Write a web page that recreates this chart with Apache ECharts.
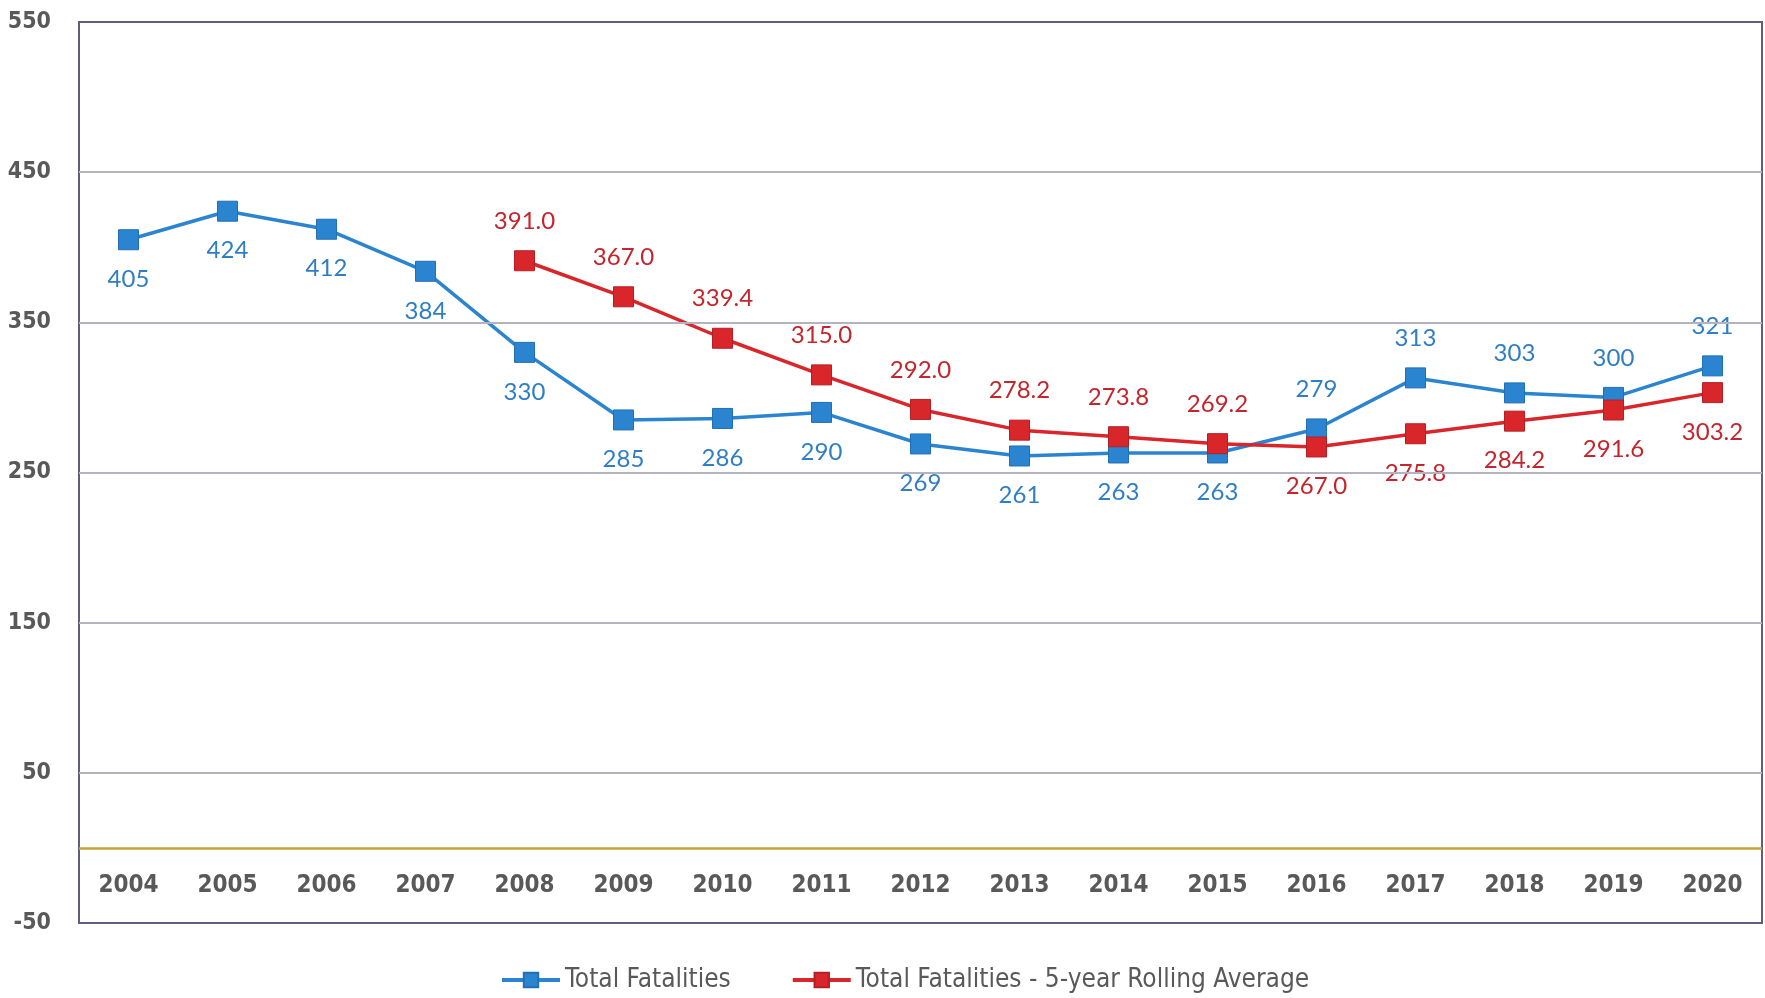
<!DOCTYPE html>
<html>
<head>
<meta charset="utf-8">
<script src="https://cdn.jsdelivr.net/npm/echarts@6/dist/echarts.min.js"></script>
<style>html,body{margin:0;padding:0;background:#fff;}#c{width:1765px;height:998px;}</style>
</head>
<body>
<div id="c"></div>
<script>
const years = ['2004','2005','2006','2007','2008','2009','2010','2011','2012','2013','2014','2015','2016','2017','2018','2019','2020'];
const totalFatalities = [405,424,412,384,330,285,286,290,269,261,263,263,279,313,303,300,321];
const rollingAvg = [null,null,null,null,391.0,367.0,339.4,315.0,292.0,278.2,273.8,269.2,267.0,275.8,284.2,291.6,303.2];
const gridValues = [50,150,250,350,450];
const zeroLine = 0;
const yMin = -50, yMax = 550, yStep = 50;

const BLUE = '#2b84d0', BLUE_TXT = '#2f7ec4';
const RED = '#d8262b', RED_TXT = '#c4252c';
const AX_FONT = "'DejaVu Sans Condensed','Liberation Sans Narrow',sans-serif";
const LBL_FONT = "Lato,'Open Sans',sans-serif";

function lblPos(i, series) {
  const late = i >= 12;
  if (series === 'blue') return late ? 'top' : 'bottom';
  return late ? 'bottom' : 'top';
}

const blueData = totalFatalities.map((v, i) => ({ value: v, label: { position: lblPos(i, 'blue') } }));
const redData = rollingAvg.map((v, i) => v === null ? null : ({ value: v, label: { position: lblPos(i, 'red') } }));

const chart = echarts.init(document.getElementById('c'));
chart.setOption({
  animation: false,
  backgroundColor: '#fff',
  grid: {
    left: 79, right: 3, top: 22, bottom: 75,
    show: true, borderColor: '#625c80', borderWidth: 2, backgroundColor: 'transparent'
  },
  legend: {
    bottom: 0, left: 495,
    itemWidth: 58, itemHeight: 18, itemGap: 60,
    lineStyle: { width: 4 },
    textStyle: { fontFamily: AX_FONT, fontSize: 26, color: '#595959' },
    data: ['Total Fatalities', 'Total Fatalities - 5-year Rolling Average']
  },
  xAxis: {
    type: 'category',
    data: years,
    boundaryGap: true,
    axisLine: { show: false, onZero: false },
    axisTick: { show: false },
    axisLabel: { inside: true, margin: 25, fontFamily: AX_FONT, fontSize: 24, fontWeight: 'bold', color: '#595959' }
  },
  yAxis: {
    type: 'value',
    min: yMin, max: yMax, interval: yStep,
    axisLine: { show: false },
    axisTick: { show: false },
    splitLine: { show: false },
    axisLabel: {
      margin: 28, fontFamily: AX_FONT, fontSize: 23, fontWeight: 'bold', color: '#595959',
      formatter: v => ((v - yMin) % 100 === 0 ? String(v) : '')
    }
  },
  series: [
    {
      name: 'Total Fatalities',
      type: 'line',
      data: blueData,
      symbol: 'rect', symbolSize: 20,
      lineStyle: { color: BLUE, width: 3.5 },
      itemStyle: { color: BLUE, borderColor: '#236fb3', borderWidth: 1 },
      label: { show: true, distance: 17, fontFamily: LBL_FONT, fontSize: 24, color: BLUE_TXT },
      z: 3,
      markLine: {
        silent: true, symbol: 'none', label: { show: false },
        data: gridValues.map(v => ({ yAxis: v, lineStyle: { color: '#b4b3bf', width: 2, type: 'solid' } }))
          .concat([{ yAxis: zeroLine, lineStyle: { color: '#c9a232', width: 2.5, type: 'solid' } }])
      }
    },
    {
      name: 'Total Fatalities - 5-year Rolling Average',
      type: 'line',
      data: redData,
      connectNulls: false,
      symbol: 'rect', symbolSize: 20,
      lineStyle: { color: RED, width: 3.5 },
      itemStyle: { color: RED, borderColor: '#b51f24', borderWidth: 1 },
      label: { show: true, distance: 17, fontFamily: LBL_FONT, fontSize: 24, color: RED_TXT,
               formatter: p => Number(p.value).toFixed(1) },
      z: 4
    }
  ]
});
</script>
</body>
</html>
